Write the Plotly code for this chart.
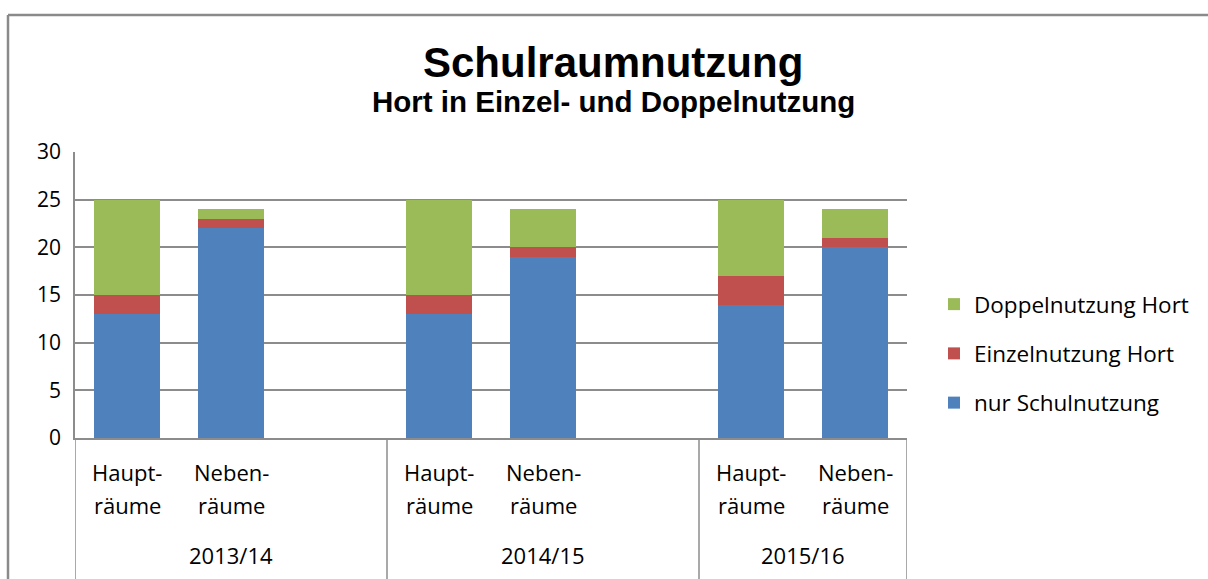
import plotly.graph_objects as go

years = ["2013/14", "2014/15", "2015/16"]
room_line1 = ["Haupt-", "Neben-"]
room_line2 = ["räume", "räume"]

# values per year: [Haupträume, Nebenräume]
nur_schul = [[13, 22], [13, 19], [14, 20]]
einzel_hort = [[2, 1], [2, 1], [3, 1]]
doppel_hort = [[10, 1], [10, 4], [8, 3]]

series = [
    ("nur Schulnutzung", nur_schul, "#4F81BD", 3),
    ("Einzelnutzung Hort", einzel_hort, "#C0504D", 2),
    ("Doppelnutzung Hort", doppel_hort, "#9BBB59", 1),
]

SLOTS = 3  # two rooms + one empty slot per year
xs = []
for g in range(len(years)):
    for i in range(len(room_line1)):
        xs.append(g * SLOTS + i)
n_slots = SLOTS * (len(years) - 1) + len(room_line1)

W, H = 1208, 579
# plot area in page pixels
L, R, T, B = 75, 907, 152, 438
font = "Open Sans"

fig = go.Figure()
for name, vals, color, rank in series:
    flat = [v for grp in vals for v in grp]
    fig.add_trace(go.Bar(
        x=xs, y=flat, name=name, marker=dict(color=color, line=dict(width=0)),
        legendrank=rank, legendgroup=name,
    ))

def py(p):  # page y pixel -> paper
    return (B - p) / (B - T)

def px(p):  # page x pixel -> paper
    return (p - L) / (R - L)

annotations = [
    dict(text="<b>Schulraumnutzung</b>", xref="paper", yref="paper",
         x=px(613), y=py(62), xanchor="center", yanchor="middle", showarrow=False,
         font=dict(family="Liberation Sans", size=42, color="black")),
    dict(text="<b>Hort in Einzel- und Doppelnutzung</b>", xref="paper", yref="paper",
         x=px(613), y=py(101), xanchor="center", yanchor="middle", showarrow=False,
         font=dict(family="Liberation Sans", size=29.5, color="black")),
]
for g, yr in enumerate(years):
    for i in range(len(room_line1)):
        xv = g * SLOTS + i
        for txt, yp in ((room_line1[i], 472), (room_line2[i], 505)):
            annotations.append(dict(text=txt, xref="x", yref="paper", x=xv, y=py(yp),
                                    xanchor="center", yanchor="middle", showarrow=False,
                                    font=dict(family=font, size=22, color="black")))
    start = g * SLOTS - 0.5
    end = min((g + 1) * SLOTS, n_slots) - 0.5
    annotations.append(dict(text=yr, xref="x", yref="paper", x=(start + end) / 2, y=py(555),
                            xanchor="center", yanchor="middle", showarrow=False,
                            font=dict(family=font, size=22, color="black")))

shapes = []
divs = [g * SLOTS - 0.5 for g in range(len(years))] + [n_slots - 0.5]
for d in divs:
    shapes.append(dict(type="line", xref="x", yref="paper", x0=d, x1=d,
                       y0=0, y1=py(600), line=dict(color="#8C8C8C", width=1.5)))
# outer chart border
shapes.append(dict(type="line", xref="paper", yref="paper", x0=px(8), x1=px(1230),
                   y0=py(15), y1=py(15), line=dict(color="#8A8A8A", width=2.5)))
shapes.append(dict(type="line", xref="paper", yref="paper", x0=px(8), x1=px(8),
                   y0=py(15), y1=py(600), line=dict(color="#8A8A8A", width=2.5)))

fig.update_layout(
    width=W, height=H,
    margin=dict(l=L, r=W - R, t=T, b=H - B, pad=0),
    paper_bgcolor="white", plot_bgcolor="white",
    barmode="stack", bargap=0.36,
    showlegend=True,
    legend=dict(x=px(934), y=py(283), xanchor="left", yanchor="top",
                traceorder="grouped", tracegroupgap=17,
                font=dict(family=font, size=22.5, color="black"),
                bgcolor="rgba(0,0,0,0)"),
    xaxis=dict(range=[-0.5, n_slots - 0.5], showticklabels=False, showgrid=False,
               zeroline=False, showline=True, linecolor="#8C8C8C", linewidth=1.5,
               ticks=""),
    yaxis=dict(range=[0, 30], dtick=5, showgrid=True, gridcolor="#8C8C8C", gridwidth=1.5,
               zeroline=False, showline=True, linecolor="#8C8C8C", linewidth=1.5,
               ticks="", ticklabelstandoff=8,
               tickfont=dict(family=font, size=21, color="black")),
    annotations=annotations, shapes=shapes,
)

fig.write_html(
    "out.html",
    config={"displayModeBar": False},
    post_script="document.body.style.margin='0';document.body.style.overflow='hidden';",
)
